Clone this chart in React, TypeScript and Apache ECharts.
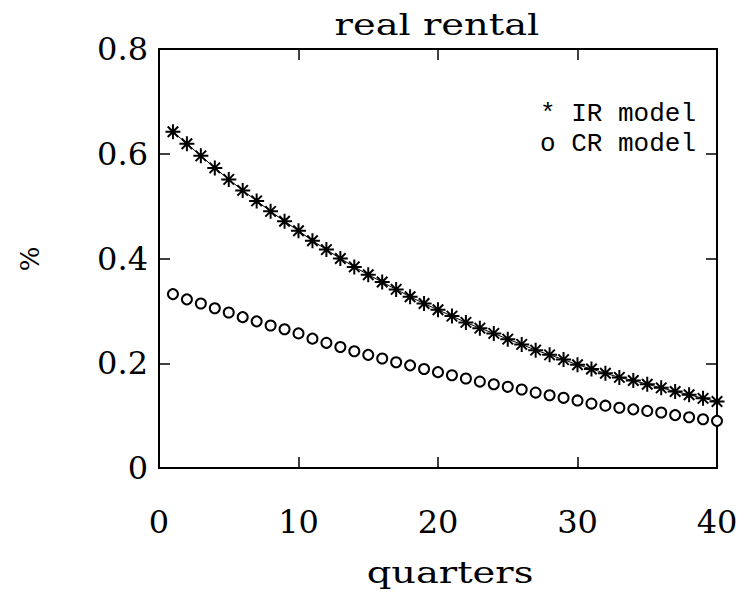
import React, { useEffect, useRef } from "react";
import * as echarts from "echarts";

const quarters = [
  1, 2, 3, 4, 5, 6, 7, 8, 9, 10, 11, 12, 13, 14, 15, 16, 17, 18, 19, 20,
  21, 22, 23, 24, 25, 26, 27, 28, 29, 30, 31, 32, 33, 34, 35, 36, 37, 38, 39, 40,
];

const irModel = [
  0.642, 0.619, 0.596, 0.573, 0.551, 0.530, 0.510, 0.490, 0.471, 0.453,
  0.434, 0.417, 0.400, 0.384, 0.369, 0.355, 0.341, 0.327, 0.314, 0.302,
  0.290, 0.278, 0.267, 0.257, 0.246, 0.236, 0.225, 0.216, 0.207, 0.197,
  0.189, 0.181, 0.173, 0.167, 0.160, 0.153, 0.146, 0.140, 0.133, 0.127,
];

const crModel = [
  0.332, 0.322, 0.314, 0.305, 0.297, 0.288, 0.280, 0.272, 0.265, 0.257,
  0.247, 0.239, 0.231, 0.223, 0.216, 0.209, 0.202, 0.196, 0.189, 0.183,
  0.177, 0.171, 0.165, 0.160, 0.155, 0.150, 0.144, 0.139, 0.134, 0.129,
  0.123, 0.119, 0.115, 0.112, 0.109, 0.106, 0.101, 0.097, 0.093, 0.090,
];

const title = "real rental";
const xName = "quarters";
const yName = "%";
const legendLabels = ["* IR model", "o CR model"];

const SERIF = "DejaVu Serif";
const MONO = "Liberation Mono";

const asterisk = "path://M10 0L10 20M0 10L20 10M3 3L17 17M3 17L17 3";

export default function App() {
  const ref = useRef<HTMLDivElement>(null);
  useEffect(() => {
    if (!ref.current) return;
    const chart = echarts.init(ref.current, null, { renderer: "svg" });
    const axisLine = { show: true, onZero: false, lineStyle: { color: "#000", width: 2 } };
    const tick = { show: true, inside: true, length: 11, lineStyle: { color: "#000", width: 1.5 } };
    const labelStyle = { color: "#000", fontFamily: SERIF, fontSize: 32 };
    chart.setOption({
      animation: false,
      backgroundColor: "#fff",
      grid: { left: 159, right: 35, top: 49, bottom: 131, containLabel: false },
      xAxis: [
        {
          type: "value", min: 0, max: 40, interval: 10, position: "bottom",
          axisLine, axisTick: tick, splitLine: { show: false },
          axisLabel: { ...labelStyle, margin: 38 },
        },
        {
          type: "value", min: 0, max: 40, interval: 10, position: "top",
          axisLine, axisTick: tick, splitLine: { show: false },
          axisLabel: { show: false },
        },
      ],
      yAxis: [
        {
          type: "value", min: 0, max: 0.8, interval: 0.2, position: "left",
          axisLine, axisTick: tick, splitLine: { show: false },
          axisLabel: { ...labelStyle, margin: 11, formatter: (v: number) => (v === 0 ? "0" : v.toFixed(1)) },
        },
        {
          type: "value", min: 0, max: 0.8, interval: 0.2, position: "right",
          axisLine, axisTick: tick, splitLine: { show: false },
          axisLabel: { show: false },
        },
      ],
      series: [
        {
          type: "line",
          name: "IR model",
          data: quarters.map((q, i) => [q, irModel[i]]),
          showAllSymbol: true,
          symbol: asterisk,
          symbolSize: 15,
          lineStyle: { color: "#000", width: 1 },
          itemStyle: { color: "#000", borderColor: "#000", borderWidth: 2 },
        },
        {
          type: "scatter",
          name: "CR model",
          data: quarters.map((q, i) => [q, crModel[i]]),
          symbol: "circle",
          symbolSize: 10,
          itemStyle: { color: "#fff", borderColor: "#000", borderWidth: 2, opacity: 1 },
        },
      ],
      graphic: [
        {
          type: "text", x: 437, y: 25, scaleX: 1.28,
          style: { text: title, fill: "#000", fontFamily: SERIF, fontSize: 30, textAlign: "center", textVerticalAlign: "middle" },
        },
        {
          type: "text", x: 450, y: 573, scaleX: 1.28,
          style: { text: xName, fill: "#000", fontFamily: SERIF, fontSize: 30, textAlign: "center", textVerticalAlign: "middle" },
        },
        {
          type: "text", x: 30, y: 259, rotation: Math.PI / 2,
          style: { text: yName, fill: "#000", fontFamily: SERIF, fontSize: 26, textAlign: "center", textVerticalAlign: "middle" },
        },
        {
          type: "text", x: 540, y: 114,
          style: { text: legendLabels[0], fill: "#000", fontFamily: MONO, fontSize: 26, textAlign: "left", textVerticalAlign: "middle" },
        },
        {
          type: "text", x: 540, y: 144,
          style: { text: legendLabels[1], fill: "#000", fontFamily: MONO, fontSize: 26, textAlign: "left", textVerticalAlign: "middle" },
        },
      ],
    });
    return () => chart.dispose();
  }, []);
  return <div ref={ref} style={{ position: "fixed", left: 0, top: 0, width: 752, height: 599 }} />;
}
